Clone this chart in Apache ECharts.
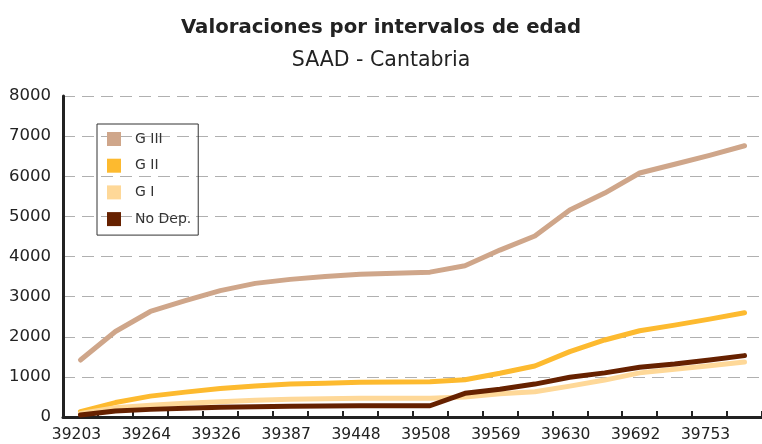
<!DOCTYPE html>
<html>
<head>
<meta charset="utf-8">
<script src="https://cdn.jsdelivr.net/npm/echarts@6/dist/echarts.min.js"></script>
<style>
  html, body { margin: 0; padding: 0; background: #fff; }
  #valoraciones { width: 762px; height: 444px; }
</style>
</head>
<body>
<div id="valoraciones"></div>
<script>
// fechas (serie Excel), una por mes
const meses = ['39203', '39234', '39264', '39295', '39326', '39356', '39387', '39417', '39448', '39479',
  '39508', '39539', '39569', '39600', '39630', '39661', '39692', '39722', '39753', '39783']

const gradoIII = [1420, 2130, 2630, 2900, 3150, 3330, 3430, 3500, 3560, 3580,
  3610, 3770, 4160, 4510, 5160, 5580, 6080, 6300, 6520, 6760]
const gradoII = [130, 360, 520, 620, 710, 770, 820, 840, 865, 870,
  880, 930, 1090, 1270, 1630, 1920, 2150, 2290, 2440, 2600]
const gradoI = [90, 230, 290, 340, 380, 415, 440, 455, 465, 465,
  465, 500, 580, 630, 770, 920, 1100, 1190, 1280, 1370]
const noDep = [50, 150, 190, 215, 240, 255, 265, 275, 280, 280,
  280, 590, 690, 820, 990, 1100, 1240, 1320, 1420, 1530]

const yTicks = { min: 0, max: 8000, interval: 1000 }

const fuente = 'DejaVu Sans'

const chart = echarts.init(document.getElementById('valoraciones'))

function linea (name, data, color) {
  return {
    name: name,
    type: 'line',
    data: data,
    symbol: 'none',
    lineStyle: { width: 5, color: color, cap: 'round', join: 'round' },
    itemStyle: { color: color }
  }
}

const option = {
  animation: false,
  backgroundColor: '#fff',
  title: [
    {
      text: 'Valoraciones por intervalos de edad',
      left: 'center',
      top: 13,
      textStyle: { fontFamily: fuente, fontSize: 19.7, fontWeight: 'bold', color: '#222' }
    },
    {
      text: 'SAAD - Cantabria',
      left: 'center',
      top: 45,
      textStyle: { fontFamily: fuente, fontSize: 20.5, fontWeight: 'normal', color: '#222' }
    }
  ],
  legend: {
    orient: 'vertical',
    left: 97,
    top: 124,
    icon: 'rect',
    itemWidth: 14,
    itemHeight: 14,
    itemGap: 12.7,
    padding: [8, 7, 9, 10],
    borderColor: '#333',
    borderWidth: 1,
    data: ['G III', 'G II', 'G I', 'No Dep.'],
    textStyle: { fontFamily: fuente, fontSize: 14, color: '#333', padding: [0, 0, 0, 9] }
  },
  grid: {
    left: 63,
    top: 96,
    width: 702,
    bottom: 27,
    containLabel: false
  },
  xAxis: {
    type: 'category',
    data: meses,
    boundaryGap: true,
    axisLine: { lineStyle: { color: '#222', width: 3 } },
    axisTick: { show: true, inside: true, length: 6, interval: 0, lineStyle: { color: '#222', width: 2 } },
    axisLabel: {
      interval: 1,
      margin: 10,
      fontFamily: fuente,
      fontSize: 15.5,
      color: '#222',
      padding: [0, 8, 0, 0]
    },
    splitLine: { show: false }
  },
  yAxis: {
    type: 'value',
    min: yTicks.min,
    max: yTicks.max,
    interval: yTicks.interval,
    axisLine: { show: true, lineStyle: { color: '#222', width: 3 } },
    axisTick: { show: false },
    axisLabel: {
      margin: 12,
      fontFamily: fuente,
      fontSize: 16.5,
      color: '#222',
      formatter: v => String(v) // sin separador de miles
    },
    splitLine: { lineStyle: { color: '#b0b0b0', width: 1, type: [12, 7] } }
  },
  series: [
    linea('G III', gradoIII, '#cfa68a'),
    linea('G II', gradoII, '#fdba2f'),
    linea('G I', gradoI, '#fed898'),
    linea('No Dep.', noDep, '#662100')
  ]
}

chart.setOption(option)
</script>
</body>
</html>
